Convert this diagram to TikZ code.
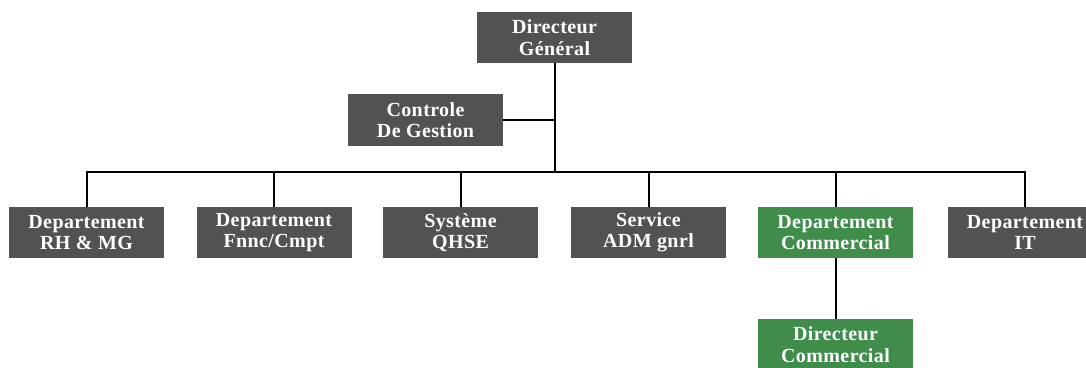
\documentclass[tikz,border=0pt]{standalone}
\usepackage{fontspec}
\newfontfamily\boxfont[LetterSpace=2]{Liberation Serif}
\begin{document}
\begin{tikzpicture}[x=1pt,y=-1pt,
  unit/.style={minimum width=155pt,minimum height=51pt,inner sep=0pt,
    text=white,align=center,font=\boxfont\bfseries\fontsize{20}{21.5}\selectfont},
  greyunit/.style={unit,fill=boxgrey},
  greenunit/.style={unit,fill=boxgreen},
  link/.style={draw=black,line width=2pt}]
\definecolor{boxgrey}{HTML}{525252}
\definecolor{boxgreen}{HTML}{3F8C4B}
\useasboundingbox (0,0) rectangle (1086,367);
\fill[white] (0,0) rectangle (1086,367);

% top of the chart
\node[greyunit] (dg) at (554.5,37.5) {Directeur\\Général};
\node[greyunit,minimum height=52pt] (cg) at (425.5,120) {Controle\\De Gestion};

% departments
\node[greyunit] (rh)   at (86.5,232.5)  {Departement\\RH \& MG};
\node[greyunit] (fin)  at (274,232.5)   {Departement\\Fnnc/Cmpt};
\node[greyunit] (qhse) at (460.5,232.5) {Système\\QHSE};
\node[greyunit] (adm)  at (648.5,232.5) {Service\\ADM gnrl};
\node[greenunit] (com) at (835.5,232.5) {Departement\\Commercial};
\node[greyunit] (it)   at (1025,232.5)  {Departement\\IT};

\node[greenunit] (dc) at (835.5,344.5) {Directeur\\Commercial};

% connectors
\coordinate (bus) at (dg.south |- 0,172);
\coordinate (cgj) at (dg.south |- cg.east);
\draw[link] (dg.south) -- (bus);
\draw[link] (cg.east) -- (cgj);
\draw[link] (rh.north) |- (bus);
\draw[link] (it.north) |- (bus);
\foreach \d in {fin,qhse,adm,com}
  \draw[link] (\d.north) -- (\d.north |- bus);
\draw[link] (com.south) -- (dc.north);
\end{tikzpicture}
\end{document}
